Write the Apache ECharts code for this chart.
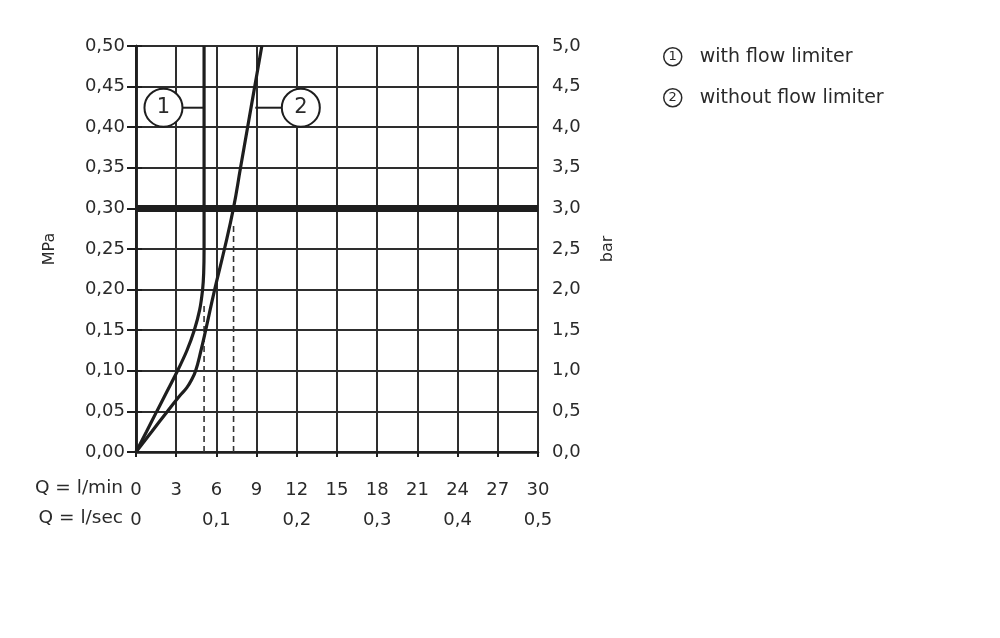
<!DOCTYPE html>
<html>
<head>
<meta charset="utf-8">
<script src="https://cdn.jsdelivr.net/npm/echarts@6/dist/echarts.min.js"></script>
<style>html,body{margin:0;padding:0;background:#fff;}#c{width:1000px;height:638px;}</style>
</head>
<body>
<div id="c"></div>
<script>
// ---- data ----
const flowMinTicks = ['0','3','6','9','12','15','18','21','24','27','30'];
const flowSecTicks = ['0','0,1','0,2','0,3','0,4','0,5'];
const curveWithLimiter = [[0,0],[0.78,0.025],[1.55,0.05],[2.33,0.075],[3.1,0.10],[3.8,0.125],[4.35,0.15],[4.75,0.175],[4.97,0.20],[5.05,0.22],[5.08,0.25],[5.08,0.50]];
const curveWithoutLimiter = [[0,0],[1.17,0.025],[2.34,0.05],[3.25,0.069],[3.78,0.079],[4.15,0.089],[4.45,0.10],[4.85,0.125],[5.2,0.15],[5.87,0.20],[6.6,0.25],[7.27,0.30],[7.8,0.35],[8.33,0.40],[8.86,0.45],[9.39,0.50]];
const nominalPressure = 0.30;
const dashedFlow = [[5.08,0.18],[7.28,0.28]];
const curveTags = [{name:'1', x:2.05, y:0.424, leaderFrom:3.45, leaderTo:5.08},{name:'2', x:12.3, y:0.424, leaderFrom:8.9, leaderTo:10.9}];
const legendMarks = ['1','2'];
const legendItems = ['with flow limiter','without flow limiter'];
const axisNames = {left:'MPa', right:'bar', rowMin:'Q = l/min', rowSec:'Q = l/sec'};

const FONT = "'DejaVu Sans', 'Noto Sans CJK SC', sans-serif";
const INK = '#1e1e1e';
const TXT = '#2a2a2a';
const GRIDC = '#2e2e2e';

const chart = echarts.init(document.getElementById('c'));
const series = [];
series.push({type:'line', data:[[0,nominalPressure],[30,nominalPressure]], symbol:'none', lineStyle:{color:INK, width:7}, z:3, silent:true});
dashedFlow.forEach(d => series.push({type:'line', data:[[d[0],0],[d[0],d[1]]], symbol:'none', lineStyle:{color:'#333', width:1.6, type:[6,4]}, z:3}));
series.push({type:'line', data:curveWithLimiter, symbol:'none', smooth:0.3, lineStyle:{color:INK, width:3.2}, z:5});
series.push({type:'line', data:curveWithoutLimiter, symbol:'none', smooth:0.45, lineStyle:{color:INK, width:3.2}, z:5});
curveTags.forEach(t => series.push({type:'line', data:[[t.leaderFrom,t.y],[t.leaderTo,t.y]], symbol:'none', lineStyle:{color:INK, width:2}, z:6}));
series.push({type:'scatter', data:curveTags.map(t=>({value:[t.x,t.y], name:t.name})), symbol:'circle', symbolSize:38,
  itemStyle:{color:'#fff', borderColor:INK, borderWidth:2, opacity:1}, z:7,
  label:{show:true, position:'inside', formatter:p=>p.name, color:TXT, fontSize:21, fontFamily:FONT}});

const legendGraphics = legendItems.map((t,i)=>({
  type:'text', left:663, top:47 + i*41,
  style:{text:'{m|'+legendMarks[i]+'}{s|}{t|'+t+'}', rich:{
    m:{fontFamily:FONT, fontSize:13, fill:TXT, width:18, height:18, lineHeight:18, align:'center', verticalAlign:'middle',
       borderColor:TXT, borderWidth:1.5, borderRadius:10},
    s:{width:18},
    t:{fontFamily:FONT, fontSize:19, fill:TXT, verticalAlign:'middle'}
  }}
}));

chart.setOption({
  animation:false,
  backgroundColor:'#fff',
  grid:{left:136, right:462, top:46, bottom:186, containLabel:false},
  xAxis:[
    {type:'value', min:0, max:30, interval:3, position:'bottom',
     axisLine:{show:true, lineStyle:{color:INK, width:2.5}}, axisTick:{show:true, length:5, lineStyle:{color:INK, width:2}},
     axisLabel:{margin:29, color:TXT, fontSize:18, fontFamily:FONT, formatter:v=>flowMinTicks[Math.round(v/3)]},
     splitLine:{show:true, lineStyle:{color:GRIDC, width:2}}},
    {type:'value', min:0, max:30, interval:6, position:'bottom', offset:30,
     axisLine:{show:false}, axisTick:{show:false}, splitLine:{show:false},
     axisLabel:{margin:29, color:TXT, fontSize:18, fontFamily:FONT, formatter:v=>flowSecTicks[Math.round(v/6)]}}
  ],
  yAxis:[
    {type:'value', min:0, max:0.5, interval:0.05, position:'left',
     name:axisNames.left, nameLocation:'middle', nameRotate:90, nameGap:78, nameTextStyle:{color:TXT, fontSize:16, fontFamily:FONT},
     axisLine:{show:true, lineStyle:{color:INK, width:2.5}}, axisTick:{show:true, length:9, lineStyle:{color:INK, width:2}},
     axisLabel:{margin:11, color:TXT, fontSize:18, fontFamily:FONT, formatter:v=>v.toFixed(2).replace('.',',')},
     splitLine:{show:true, lineStyle:{color:GRIDC, width:2}}},
    {type:'value', min:0, max:5, interval:0.5, position:'right',
     name:axisNames.right, nameLocation:'middle', nameRotate:90, nameGap:62, nameTextStyle:{color:TXT, fontSize:16, fontFamily:FONT},
     axisLine:{show:true, lineStyle:{color:INK, width:2.5}}, axisTick:{show:true, length:6, lineStyle:{color:INK, width:2}},
     axisLabel:{margin:14, color:TXT, fontSize:18, fontFamily:FONT, formatter:v=>v.toFixed(1).replace('.',',')},
     splitLine:{show:false}}
  ],
  graphic:legendGraphics.concat([
    {type:'text', right:877, top:479, style:{text:axisNames.rowMin, fill:TXT, font:'18.5px '+FONT}},
    {type:'text', right:877, top:509, style:{text:axisNames.rowSec, fill:TXT, font:'18.5px '+FONT}}
  ]),
  series:series
});
</script>
</body>
</html>
